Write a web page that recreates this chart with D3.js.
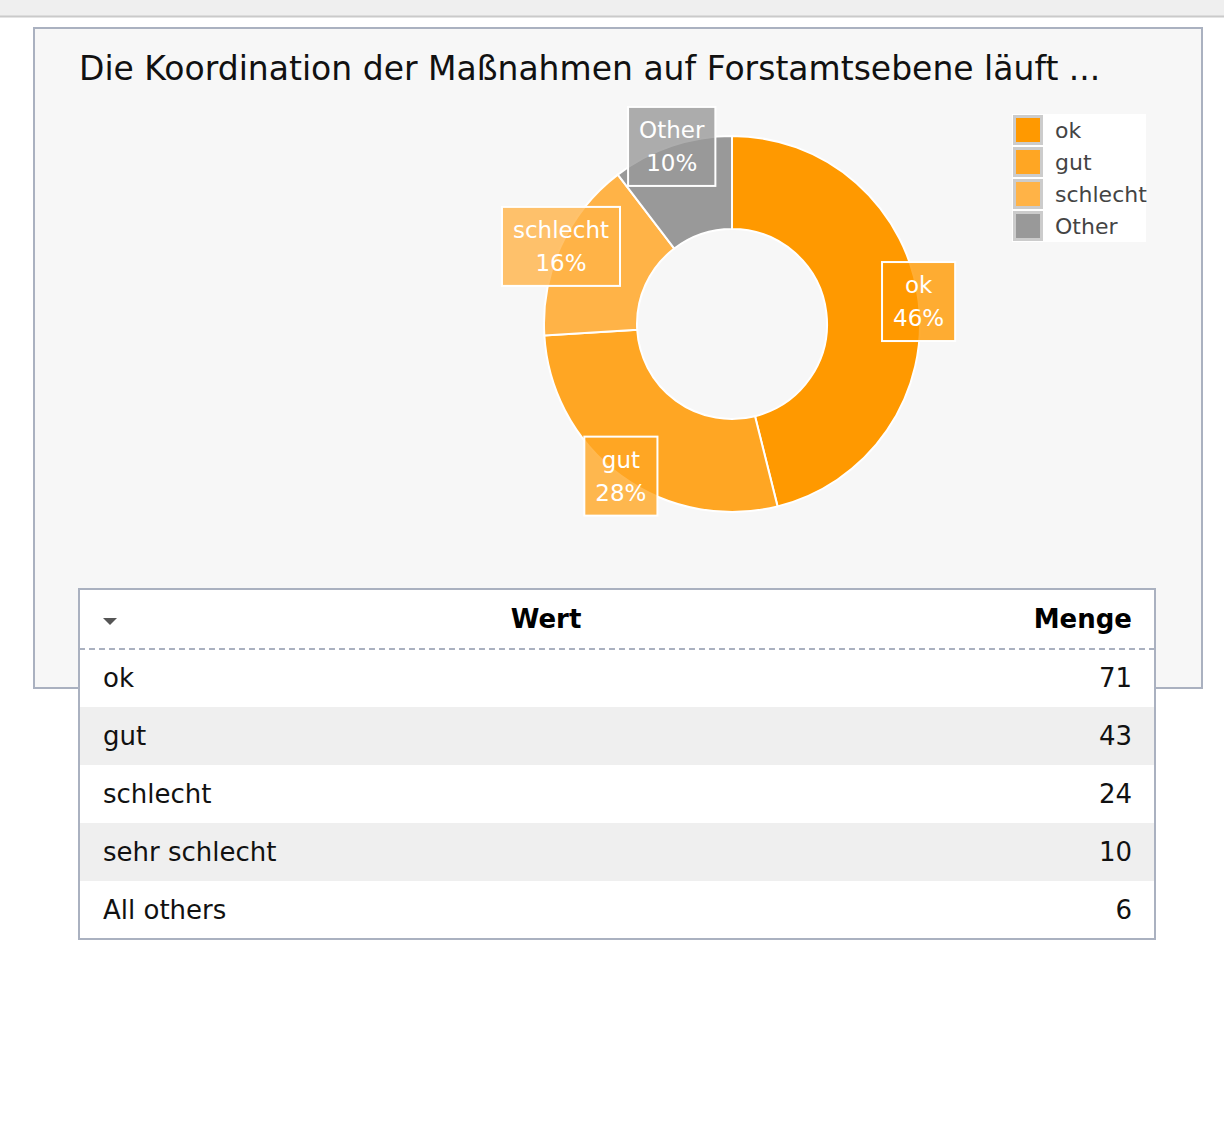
<!DOCTYPE html>
<html>
<head>
<meta charset="utf-8">
<script src="https://cdn.jsdelivr.net/npm/d3@7"></script>
<style>
  html, body { margin: 0; padding: 0; background: #fff; }
  svg { display: block; font-family: "DejaVu Sans", Verdana, sans-serif; }
</style>
</head>
<body>
<div id="chart"></div>
<script>
'use strict';

var title = 'Die Koordination der Maßnahmen auf Forstamtsebene läuft ...';

// table rows
var rowNames = ['ok', 'gut', 'schlecht', 'sehr schlecht', 'All others'];
var rowCounts = [71, 43, 24, 10, 6];

// pie shows the top 3, the rest goes into "Other"
var topN = 3;
var sliceNames = rowNames.slice(0, topN).concat(['Other']);
var sliceValues = rowCounts.slice(0, topN).concat([d3.sum(rowCounts.slice(topN))]);
var sliceColors = ['#ff9900', '#ffa623', '#ffb347', '#999999'];

var width = 1224, height = 1134;

var svg = d3.select('#chart')
    .append('svg')
    .attr('width', width)
    .attr('height', height);

// top bar of the page
svg.append('rect')
    .attr('x', 0).attr('y', 0)
    .attr('width', width).attr('height', 16)
    .style('fill', '#efefef');
svg.append('line')
    .attr('x1', 0).attr('x2', width)
    .attr('y1', 16.5).attr('y2', 16.5)
    .style('stroke', '#cacaca')
    .style('stroke-width', 2);

// chart panel
svg.append('rect')
    .attr('x', 34).attr('y', 28)
    .attr('width', 1168).attr('height', 660)
    .style('fill', '#f7f7f7')
    .style('stroke', '#aab1c0')
    .style('stroke-width', 2);

svg.append('text')
    .attr('x', 79)
    .attr('y', 80)
    .style('font-size', '33px')
    .style('fill', '#111')
    .text(title);

// donut
var cx = 732, cy = 324;
var outerR = 188, innerR = 95;

var pie = d3.pie().sort(null).value(function(d) { return d; });
var arcs = pie(sliceValues);
var arc = d3.arc().innerRadius(innerR).outerRadius(outerR);
var total = d3.sum(sliceValues);

var g = svg.append('g').attr('transform', 'translate(' + cx + ',' + cy + ')');

g.selectAll('path.slice')
    .data(arcs)
    .enter()
    .append('path')
    .attr('class', 'slice')
    .attr('d', arc)
    .style('fill', function(d, i) { return sliceColors[i]; })
    .style('stroke', '#fff')
    .style('stroke-width', 2);

// labels sit on the outer edge at the middle angle
var labelG = g.selectAll('g.lab')
    .data(arcs)
    .enter()
    .append('g')
    .attr('class', 'lab')
    .attr('transform', function(d) {
        var a = (d.startAngle + d.endAngle) / 2;
        return 'translate(' + (outerR * Math.sin(a)) + ',' + (-outerR * Math.cos(a)) + ')';
    });

labelG.each(function(d, i) {
    var sel = d3.select(this);
    var pct = Math.round(d.value / total * 100) + '%';
    var box = sel.append('rect');
    var t1 = sel.append('text')
        .attr('text-anchor', 'middle')
        .attr('y', -8)
        .style('font-size', '23px')
        .style('fill', '#fff')
        .text(sliceNames[i]);
    var t2 = sel.append('text')
        .attr('text-anchor', 'middle')
        .attr('y', 25)
        .style('font-size', '23px')
        .style('fill', '#fff')
        .text(pct);
    var w = Math.max(t1.node().getComputedTextLength(), t2.node().getComputedTextLength()) + 22;
    box.attr('x', -w / 2)
        .attr('y', -39)
        .attr('width', w)
        .attr('height', 79)
        .style('fill', sliceColors[i])
        .style('fill-opacity', 0.8)
        .style('stroke', '#fff')
        .style('stroke-width', 2);
});

// legend
var legX = 1012, legY = 114, rowH = 32;
svg.append('rect')
    .attr('x', legX).attr('y', legY)
    .attr('width', 134).attr('height', sliceNames.length * rowH)
    .style('fill', '#fff');

var leg = svg.selectAll('g.leg')
    .data(sliceNames)
    .enter()
    .append('g')
    .attr('class', 'leg')
    .attr('transform', function(d, i) { return 'translate(' + legX + ',' + (legY + i * rowH) + ')'; });

leg.append('rect')
    .attr('x', 2.5).attr('y', 2.5)
    .attr('width', 27).attr('height', 27)
    .style('fill', function(d, i) { return sliceColors[i]; })
    .style('stroke', '#cccccc')
    .style('stroke-width', 3);

leg.append('text')
    .attr('x', 43)
    .attr('y', 24)
    .style('font-size', '22px')
    .style('fill', '#444')
    .text(function(d) { return d; });

// table
var tX = 79, tY = 589, tW = 1076, headH = 60, rH = 58;
var tbl = svg.append('g');

tbl.append('rect')
    .attr('x', tX).attr('y', tY)
    .attr('width', tW).attr('height', headH + rowNames.length * rH)
    .style('fill', '#fff');

tbl.selectAll('rect.row')
    .data(rowNames)
    .enter()
    .append('rect')
    .attr('class', 'row')
    .attr('x', tX).attr('y', function(d, i) { return tY + headH + i * rH; })
    .attr('width', tW).attr('height', rH)
    .style('fill', function(d, i) { return i % 2 ? '#efefef' : '#fff'; });

tbl.append('rect')
    .attr('x', tX).attr('y', tY)
    .attr('width', tW).attr('height', headH + rowNames.length * rH)
    .style('fill', 'none')
    .style('stroke', '#aab1c0')
    .style('stroke-width', 2);

tbl.append('line')
    .attr('x1', tX).attr('x2', tX + tW)
    .attr('y1', tY + headH).attr('y2', tY + headH)
    .style('stroke', '#aab1c0')
    .style('stroke-width', 2)
    .style('stroke-dasharray', '6,4');

tbl.append('path')
    .attr('d', 'M103,618 L117,618 L110,625 Z')
    .style('fill', '#555');

tbl.append('text')
    .attr('x', 546).attr('y', tY + 39)
    .attr('text-anchor', 'middle')
    .style('font-size', '26px')
    .style('font-weight', 'bold')
    .style('fill', '#000')
    .text('Wert');

tbl.append('text')
    .attr('x', 1132).attr('y', tY + 39)
    .attr('text-anchor', 'end')
    .style('font-size', '26px')
    .style('font-weight', 'bold')
    .style('fill', '#000')
    .text('Menge');

tbl.selectAll('text.name')
    .data(rowNames)
    .enter()
    .append('text')
    .attr('class', 'name')
    .attr('x', 103)
    .attr('y', function(d, i) { return tY + headH + i * rH + 38; })
    .style('font-size', '26px')
    .style('fill', '#111')
    .text(function(d) { return d; });

tbl.selectAll('text.count')
    .data(rowCounts)
    .enter()
    .append('text')
    .attr('class', 'count')
    .attr('x', 1132)
    .attr('y', function(d, i) { return tY + headH + i * rH + 38; })
    .attr('text-anchor', 'end')
    .style('font-size', '26px')
    .style('fill', '#111')
    .text(function(d) { return d; });
</script>
</body>
</html>
